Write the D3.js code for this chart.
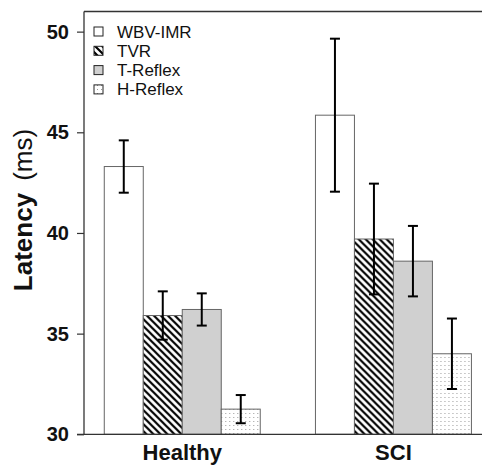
<!DOCTYPE html>
<html>
<head>
<meta charset="utf-8">
<script src="https://cdn.jsdelivr.net/npm/d3@7"></script>
<style>
  html, body { margin: 0; padding: 0; background: #fff; }
  svg { display: block; font-family: Arial, "Liberation Sans", Helvetica, sans-serif; }
</style>
</head>
<body>
<svg id="chart" width="482" height="465"></svg>
<script>
// ---- data ----
const groups = ["Healthy", "SCI"];
const series = ["WBV-IMR", "TVR", "T-Reflex", "H-Reflex"];
const healthyMeans = [43.3, 35.9, 36.2, 31.25];
const healthyErr   = [1.3, 1.2, 0.8, 0.7];
const sciMeans     = [45.85, 39.7, 38.6, 34.0];
const sciErr       = [3.8, 2.75, 1.75, 1.75];
const yTicks       = [30, 35, 40, 45, 50];

const rows = [
  {group: "Healthy", means: healthyMeans, errs: healthyErr},
  {group: "SCI", means: sciMeans, errs: sciErr}
];

const svg = d3.select("#chart");
const W = 482, H = 465;
const plotLeft = 84, plotTop = 11.5, plotBottom = 434.3;

const y = d3.scaleLinear().domain([30, 51]).range([plotBottom, plotTop]);
const x0 = d3.scaleBand().domain(groups).range([plotLeft, 491.7])
  .paddingInner(0.2614).paddingOuter(0.096);
const x1 = d3.scaleBand().domain(series).range([0, x0.bandwidth()]).padding(0);

// ---- patterns ----
const defs = svg.append("defs");
const hatch = defs.append("pattern").attr("id", "hatch")
  .attr("patternUnits", "userSpaceOnUse").attr("width", 7).attr("height", 7);
hatch.append("rect").attr("width", 7).attr("height", 7).attr("fill", "#fff");
hatch.append("path").attr("d", "M-1,-1 L8,8 M-1,6 L1,8 M6,-1 L8,1")
  .attr("stroke", "#000").attr("stroke-width", 2.2);

const dots = defs.append("pattern").attr("id", "dots")
  .attr("patternUnits", "userSpaceOnUse").attr("width", 4).attr("height", 4);
dots.append("rect").attr("width", 4).attr("height", 4).attr("fill", "#fff");
dots.append("rect").attr("x", 1).attr("y", 1).attr("width", 1).attr("height", 1).attr("fill", "#9a9a9a");

const fills = {"WBV-IMR": "#ffffff", "TVR": "url(#hatch)", "T-Reflex": "#d0d0d0", "H-Reflex": "url(#dots)"};

// ---- bars ----
const g = svg.append("g");
rows.forEach(r => {
  const gg = g.append("g").attr("transform", `translate(${x0(r.group)},0)`);
  series.forEach((s, i) => {
    gg.append("rect")
      .attr("x", x1(s)).attr("y", y(r.means[i]))
      .attr("width", x1.bandwidth()).attr("height", y(30) - y(r.means[i]))
      .attr("fill", fills[s]).attr("stroke", "#666").attr("stroke-width", 1);
  });
  series.forEach((s, i) => {
    const cx = x1(s) + x1.bandwidth() / 2;
    const hi = y(r.means[i] + r.errs[i]), lo = y(r.means[i] - r.errs[i]);
    gg.append("line").attr("x1", cx).attr("x2", cx).attr("y1", hi).attr("y2", lo)
      .attr("stroke", "#000").attr("stroke-width", 2);
    [hi, lo].forEach(yy => gg.append("line")
      .attr("x1", cx - 5).attr("x2", cx + 5).attr("y1", yy).attr("y2", yy)
      .attr("stroke", "#000").attr("stroke-width", 2));
  });
});

// ---- axes ----
const yAxis = d3.axisLeft(y).tickValues(yTicks).tickSize(7).tickPadding(8);
const ya = svg.append("g").attr("transform", `translate(${plotLeft},0)`).call(yAxis);
ya.select(".domain").remove();
ya.selectAll(".tick line").attr("stroke", "#333").attr("stroke-width", 1.2);
ya.selectAll(".tick text").attr("font-size", 20).attr("font-weight", "bold")
  .attr("fill", "#111").attr("font-family", "Arial, 'Liberation Sans', sans-serif");

svg.append("line").attr("x1", plotLeft).attr("x2", plotLeft).attr("y1", plotTop).attr("y2", plotBottom)
  .attr("stroke", "#333").attr("stroke-width", 1.3);
svg.append("line").attr("x1", plotLeft).attr("x2", W).attr("y1", plotTop).attr("y2", plotTop)
  .attr("stroke", "#333").attr("stroke-width", 1.5);
svg.append("line").attr("x1", 77).attr("x2", W).attr("y1", plotBottom).attr("y2", plotBottom)
  .attr("stroke", "#333").attr("stroke-width", 1.3);

const xAxis = d3.axisBottom(x0).tickSize(0).tickPadding(10);
const xa = svg.append("g").attr("transform", `translate(0,${plotBottom})`).call(xAxis);
xa.select(".domain").remove();
xa.selectAll(".tick text").attr("font-size", 22).attr("font-weight", "bold")
  .attr("fill", "#111").attr("font-family", "Arial, 'Liberation Sans', sans-serif");

// ---- y label ----
const yl = svg.append("text")
  .attr("transform", `translate(32,210) rotate(-90)`)
  .attr("text-anchor", "middle").attr("font-size", 26).attr("fill", "#111");
yl.append("tspan").attr("font-weight", "bold").text("Latency");
yl.append("tspan").attr("dx", 12).text("(ms)");

// ---- legend ----
const lg = svg.append("g");
series.forEach((s, i) => {
  const cy = 31.5 + i * 19.3;
  lg.append("rect").attr("x", 94).attr("y", cy - 4.5).attr("width", 9).attr("height", 9)
    .attr("fill", fills[s]).attr("stroke", "#222").attr("stroke-width", 1);
  lg.append("text").attr("x", 117).attr("y", cy + 6).attr("font-size", 17)
    .attr("fill", "#111").text(s);
});
</script>
</body>
</html>
